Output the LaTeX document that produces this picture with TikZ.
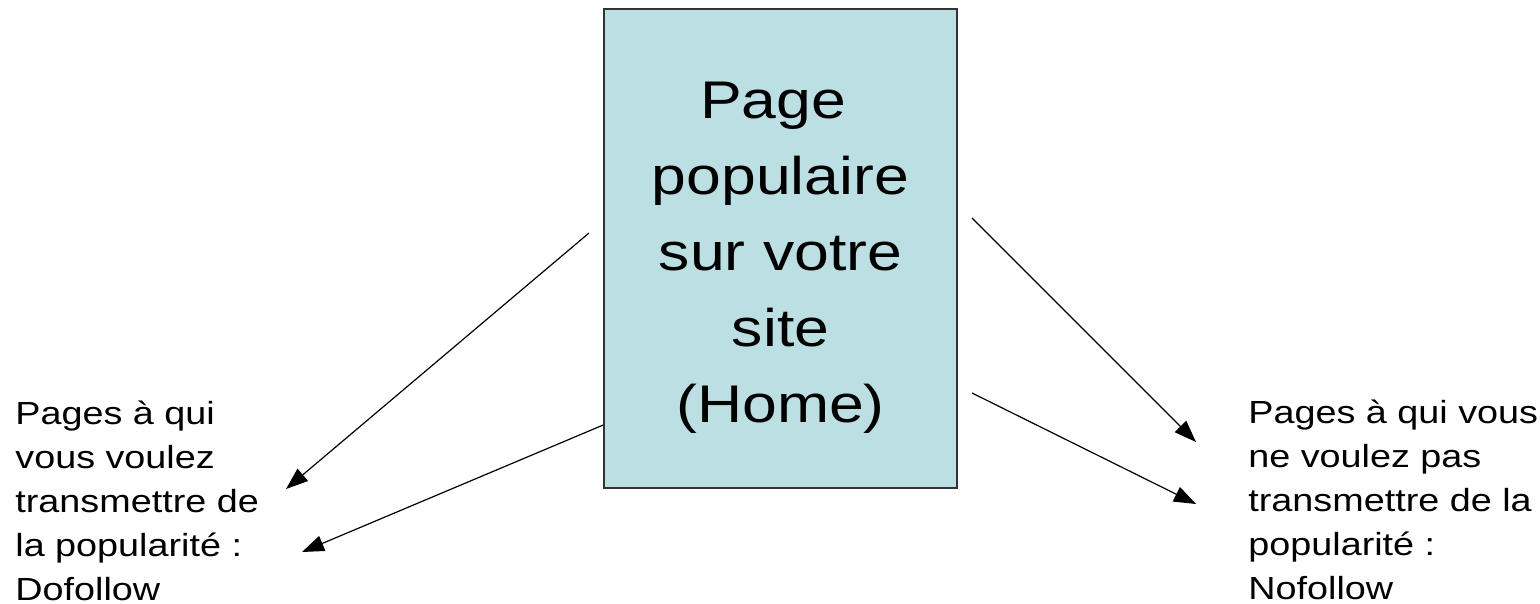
\documentclass[tikz,border=0pt]{standalone}
\usepackage{fontspec}
\setmainfont{Liberation Sans}
\newfontfamily\widesans[FakeStretch=1.18]{Liberation Sans}
\usepackage{xcolor}
\usetikzlibrary{arrows.meta}
\definecolor{homeblue}{HTML}{BBDFE2}

\begin{document}
\begin{tikzpicture}[x=0.5pt,y=-0.5pt,
    homebox/.style={draw=black!80,line width=0.8pt,fill=homeblue,
      minimum width=176.5pt,minimum height=239.5pt,inner sep=0pt},
    homelabel/.style={inner sep=0pt,align=center,
      font=\widesans\fontsize{26.5}{38}\selectfont},
    sidetext/.style={inner sep=0pt,align=left,
      font=\widesans\fontsize{16}{22}\selectfont},
    link/.style={line width=0.6pt,-{Triangle[length=11pt,width=8pt]}}]
    \useasboundingbox (0,0) rectangle (1540,604);
    \node[homebox] (home) at (780.5,248.5) {};
    \node[homelabel] (homelabel) at ([yshift=-4.5pt]home.center)
      {Page\hspace*{.28em}\\populaire\\sur votre\\site\hspace*{.28em}\\(Home)};
    \node[sidetext,anchor=north west] (dofollow) at (15,401)
      {Pages à qui\\vous voulez\\transmettre de\\la popularité :\\Dofollow};
    \node[sidetext,anchor=north west] (nofollow) at (1248,400)
      {Pages à qui vous\\ne voulez pas\\transmettre de la\\popularité :\\Nofollow};
    % free ends of the links
    \coordinate (l1) at (589,233);
    \coordinate (l1e) at (286,489);
    \coordinate (l2e) at (302,552);
    \coordinate (r1) at (972,218);
    \coordinate (r1e) at (1196,442);
    \coordinate (r2) at (972,393);
    \coordinate (r2e) at (1196,504);
    \draw[link] (l1) -- (l1e);
    \draw[link] (home.west |- 0,425) -- (l2e);
    \draw[link] (r1) -- (r1e);
    \draw[link] (r2) -- (r2e);
\end{tikzpicture}
\end{document}
